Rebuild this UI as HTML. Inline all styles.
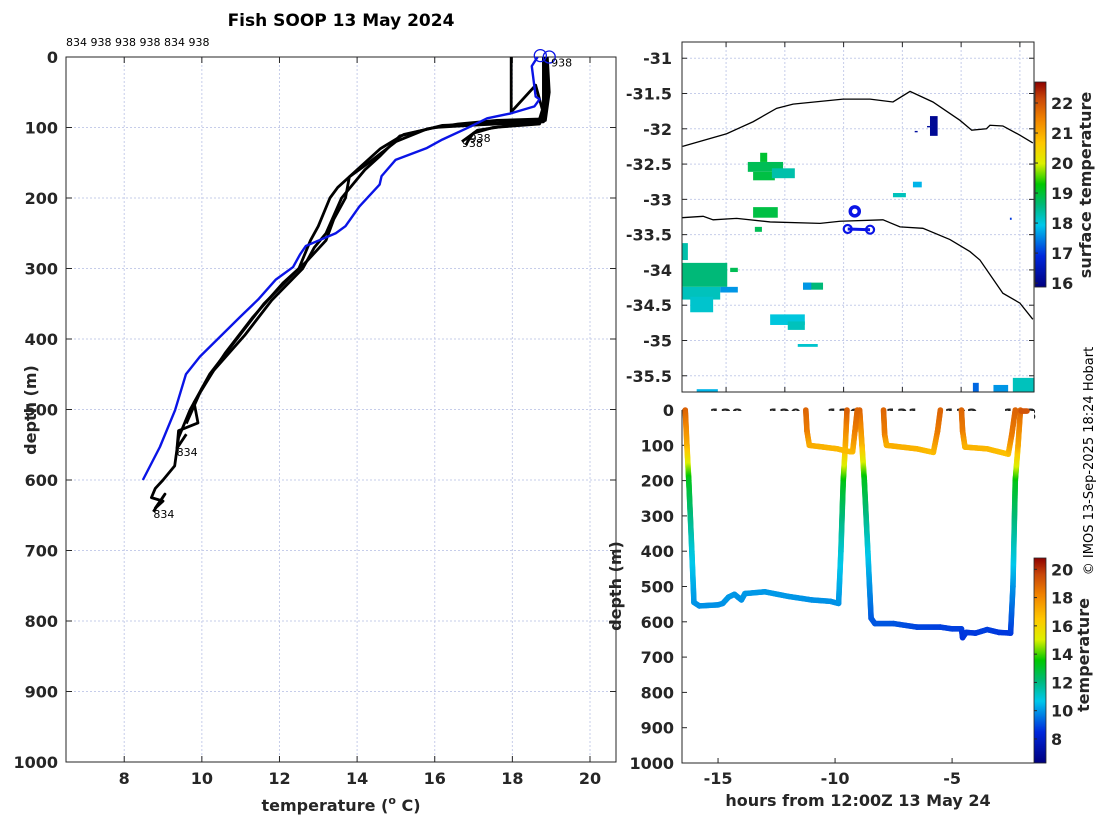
<!DOCTYPE html>
<html><head><meta charset="utf-8"><style>
body{margin:0;background:#fff;}
svg{display:block;font-family:"DejaVu Sans","Liberation Sans",sans-serif;}
.tk{font-size:16px;font-weight:bold;fill:#262626;}
.lb{font-size:16px;font-weight:bold;fill:#262626;}
</style></head><body>
<svg id="fig" width="1100" height="820" viewBox="0 0 1100 820">
<rect width="1100" height="820" fill="#fff"/>
<text x="341" y="26" text-anchor="middle" style="font-size:17px;font-weight:bold" fill="#000">Fish SOOP 13 May 2024</text>
<text x="66" y="46" style="font-size:11px" fill="#000">834 938 938 938 834 938</text>
<g id="left"></g>
<g id="map"></g>
<g id="tow"></g>
<text transform="translate(1093,461) rotate(-90)" text-anchor="middle" style="font-size:13px" fill="#000">© IMOS 13-Sep-2025 18:24 Hobart</text>
</svg>
<script>
// ---------- data: temperature profiles ----------
const blueT=[18.65,18.5,18.6,18.7,18.57,17.96,17.35,16.83,16.2,15.8,14.99,14.63,14.58,14.06,13.7,13.45,12.68,12.53,12.35,11.9,11.45,10.98,9.95,9.59,9.31,8.92,8.48];
const blueD=[0,13,56,60,70,80,87,101,117,129,146,169,181,212,240,250,268,280,298,316,344,369,425,450,501,553,600];
const castA_T=[18.85,18.9,18.8,17.2,16.0,15.2,14.6,14.0,13.5,13.3,13.0,12.8,12.5,11.6,10.9,10.2,9.7,9.4,9.3,9.0,8.8,8.7,9.0,8.8,9.05,8.75];
const castA_D=[0,60,92,96,100,110,130,160,185,200,240,260,300,350,400,450,500,540,580,600,612,625,630,640,620,645];
const castB_T=[18.9,18.95,18.85,17.5,16.2,15.4,15.1,14.6,14.2,13.9,13.6,13.2,12.9,12.6,11.8,11.1,10.3,9.8,9.9,9.4,9.36,9.6];
const castB_D=[0,50,90,94,97,108,112,140,160,180,200,250,270,300,345,395,445,490,519,530,555,535];
const castC_T=[18.8,18.85,18.7,17.6,16.6,15.8,15.0,14.3,13.8,13.7,13.4,13.2,12.7,12.1,11.3,10.6,10.0,9.6];
const castC_D=[0,70,88,90,95,102,120,150,170,200,230,260,290,320,370,420,470,520];
const castD_T=[17.97,17.97,18.6,18.8,18.7,17.5,17.0,16.9,16.8];
const castD_D=[0,78,40,80,95,100,108,115,125];
const castE_T=[18.8,18.8,18.7,17.8,17.1,16.9,16.7];
const castE_D=[0,70,88,98,104,112,120];
// ---------- data: map ----------
const coastLon=[127.26,128.01,128.46,128.86,129.14,129.99,130.45,130.84,131.13,131.52,131.98,132.18,132.43,132.49,132.71,133.0,133.22];
const coastLat=[-32.25,-32.07,-31.9,-31.71,-31.65,-31.58,-31.58,-31.62,-31.47,-31.62,-31.88,-32.02,-32.0,-31.95,-31.96,-32.09,-32.2];
const isoLon=[127.25,127.61,127.78,128.18,128.75,129.6,129.94,130.67,130.96,131.35,131.81,132.15,132.32,132.71,133.0,133.22];
const isoLat=[-33.26,-33.24,-33.29,-33.27,-33.32,-33.34,-33.31,-33.29,-33.39,-33.41,-33.57,-33.74,-33.86,-34.33,-34.47,-34.7];
const trackLon=[130.07,130.45];
const trackLat=[-33.42,-33.43];
const loopLon=[130.19], loopLat=[-33.17];
// patches: lon0, lon1, lat0, lat1, sst
const patchLon0=[128.37,128.46,128.58,128.78,128.46,128.49,127.25,127.25,127.39,127.25,127.9,128.07,129.31,129.31,128.75,129.05,129.22,127.5,132.88,132.2,132.55,131.47,131.52,131.42,131.21,131.18,130.84,132.83];
const patchLon1=[128.97,128.83,128.7,129.17,128.88,128.61,128.02,127.9,127.78,127.35,128.2,128.2,129.65,129.45,129.34,129.34,129.56,127.86,133.25,132.3,132.8,131.6,131.59,131.52,131.26,131.33,131.06,132.86];
const patchLat0=[-32.47,-32.61,-32.34,-32.56,-33.11,-33.39,-33.9,-34.24,-34.38,-33.62,-34.24,-33.97,-34.18,-34.18,-34.63,-34.73,-35.05,-35.69,-35.53,-35.6,-35.63,-31.82,-31.83,-31.96,-32.03,-32.75,-32.91,-33.26];
const patchLat1=[-32.61,-32.73,-32.47,-32.70,-33.26,-33.46,-34.24,-34.42,-34.6,-33.86,-34.32,-34.03,-34.28,-34.28,-34.78,-34.85,-35.09,-35.73,-35.73,-35.73,-35.73,-32.1,-31.86,-31.98,-32.05,-32.83,-32.97,-33.29];
const patchSST=[18.8,18.9,19.0,18.3,18.9,18.8,18.6,18.2,18.1,18.3,17.6,18.8,18.6,17.6,18.0,18.2,18.1,17.8,18.2,17.3,17.6,16.1,16.0,16.2,16.2,17.8,18.2,17.0];
// ---------- data: tow time series ----------
const deep1T=[-16.4,-16.33,-16.25,-16.12,-16.03,-15.8,-15.0,-14.8,-14.55,-14.3,-14.0,-13.85,-13.0,-12.0,-11.0,-10.2,-9.85,-9.75,-9.65,-9.56,-9.49];
const deep1D=[0,100,200,400,545,555,552,548,530,522,538,520,515,528,538,542,548,400,200,100,0];
const deep1Temp=[19.0,17.2,13.2,10.9,10.0,9.9,9.9,9.9,10.0,10.0,9.9,10.0,10.0,10.0,9.9,9.9,9.9,10.9,13.2,17.0,19.0];
const deep2T=[-8.95,-8.85,-8.75,-8.6,-8.46,-8.3,-7.5,-6.5,-5.5,-5.0,-4.6,-4.55,-4.4,-4.0,-3.5,-3.0,-2.5,-2.4,-2.3,-2.18,-2.08];
const deep2D=[0,100,200,400,590,605,605,615,615,620,620,645,630,632,622,630,632,500,200,100,0];
const deep2Temp=[19.0,17.0,13.2,10.8,9.2,9.1,9.1,8.9,8.8,8.8,8.8,8.6,8.7,8.7,8.8,8.7,8.7,9.9,13.2,17.2,18.8];
const sh1T=[-11.25,-11.2,-11.1,-10.5,-9.9,-9.6,-9.35,-9.25,-9.15,-9.05];
const sh1D=[0,60,100,105,110,115,118,118,60,0];
const sh1Temp=[18.9,18.4,17.2,17.0,16.9,16.8,16.8,16.8,18.2,18.9];
const sh2T=[-7.93,-7.88,-7.8,-6.5,-5.8,-5.62,-5.5];
const sh2D=[0,70,100,110,120,60,0];
const sh2Temp=[18.9,18.3,17.1,17.0,16.7,18.3,18.9];
const sh3T=[-4.6,-4.55,-4.45,-3.5,-2.6,-2.45,-2.3];
const sh3D=[0,60,105,110,125,70,0];
const sh3Temp=[18.9,18.4,17.0,16.9,16.6,18.3,18.9];
const surfT=[-2.05,-1.8];
const surfD=[3,3];
const surfTemp=[19.3,19.3];
</script>
<script>
const NS="http://www.w3.org/2000/svg";
function mk(tag,attrs,parent){const e=document.createElementNS(NS,tag);for(const k in attrs)e.setAttribute(k,attrs[k]);parent.appendChild(e);return e;}
const stops=[[0,[0,0,128]],[0.15,[0,40,220]],[0.3,[0,200,235]],[0.4,[0,185,120]],[0.5,[0,200,0]],[0.6,[220,240,0]],[0.7,[255,200,0]],[0.82,[240,130,0]],[0.92,[200,70,10]],[1,[140,0,0]]];
function cmap(f){f=Math.max(0,Math.min(1,f));for(let i=1;i<stops.length;i++){if(f<=stops[i][0]){const a=stops[i-1],b=stops[i],t=(f-a[0])/(b[0]-a[0]);const c=a[1].map((v,j)=>Math.round(v+(b[1][j]-v)*t));return `rgb(${c[0]},${c[1]},${c[2]})`;}}return "rgb(140,0,0)";}
const GRID="#c6cdea";

// ===== Left profile panel =====
const L=document.getElementById('left');
const lx0=66,lx1=616,ly0=57,ly1=762,tMin=6.5,tMax=20.67;
const xT=t=>lx0+(t-tMin)/(tMax-tMin)*(lx1-lx0);
const yD=d=>ly0+d/1000*(ly1-ly0);
const tempTicks=[8,10,12,14,16,18,20];
const depthTicks=[0,100,200,300,400,500,600,700,800,900,1000];
tempTicks.forEach(t=>{const x=xT(t);
 const g=mk('line',{x1:x,x2:x,y1:ly0,y2:ly1,stroke:GRID,'stroke-dasharray':'2,2'},L);
 
 mk('line',{x1:x,x2:x,y1:ly1,y2:ly1-6,stroke:'#262626'},L);mk('line',{x1:x,x2:x,y1:ly0,y2:ly0+6,stroke:'#262626'},L);
 const tx=mk('text',{x:x,y:784,'text-anchor':'middle',class:'tk'},L);tx.textContent=t;
 });
depthTicks.forEach(d=>{const y=yD(d);
 if(d>0&&d<1000){const g=mk('line',{x1:lx0,x2:lx1,y1:y,y2:y,stroke:GRID,'stroke-dasharray':'2,2'},L);
 }
 mk('line',{x1:lx0,x2:lx0+6,y1:y,y2:y,stroke:'#262626'},L);mk('line',{x1:lx1,x2:lx1-6,y1:y,y2:y,stroke:'#262626'},L);
 const tx=mk('text',{x:58,y:y+6,'text-anchor':'end',class:'tk'},L);tx.textContent=d;
 });
const lb=mk('rect',{x:lx0,y:ly0,width:lx1-lx0,height:ly1-ly0,fill:'none',stroke:'#262626'},L);

function prof(T,D,col,w,name){const p=mk('polyline',{points:T.map((t,i)=>xT(t)+','+yD(D[i])).join(' '),fill:'none',stroke:col,'stroke-width':w,'stroke-linejoin':'round'},L);
 }
prof(castA_T,castA_D,'#000',2.8,'cast-834-a');
prof(castB_T,castB_D,'#000',2.8,'cast-834-b');
prof(castC_T,castC_D,'#000',2.8,'cast-938-c');
prof(castD_T,castD_D,'#000',2.8,'cast-938-d');
prof(castE_T,castE_D,'#000',2.8,'cast-938-e');
prof(blueT,blueD,'#0a14e6',2.4,'cast-blue');
[[18.72,-2],[18.95,0]].forEach(p=>{const c=mk('circle',{cx:xT(p[0]),cy:yD(p[1]),r:6,fill:'none',stroke:'#0a14e6','stroke-width':1.3},L);
 });
[['938',19.0,8],['938',16.7,122],['938',16.9,115],['834',9.35,560],['834',8.75,648]].forEach(a=>{
 const t=mk('text',{x:xT(a[1]),y:yD(a[2])+4,style:'font-size:11px',fill:'#000'},L);t.textContent=a[0];
 });
let t1=mk('text',{x:341,y:811,'text-anchor':'middle',class:'lb'},L);t1.innerHTML='temperature (<tspan dy="-7" style="font-size:11px">o</tspan><tspan dy="7"> C)</tspan>';

let t2=mk('text',{transform:'translate(36,410) rotate(-90)','text-anchor':'middle',class:'lb'},L);t2.textContent='depth (m)';


// ===== Map panel =====
const M=document.getElementById('map');
const mx0=682,mx1=1034,my0=42,my1=392,lonMin=127.25,lonMax=133.24,latTop=-30.77,latBot=-35.73;
const xL=l=>mx0+(l-lonMin)/(lonMax-lonMin)*(mx1-mx0);
const yL=l=>my0+(latTop-l)/(latTop-latBot)*(my1-my0);
const lonTicks=[128,129,130,131,132,133];
const latTicks=[-31,-31.5,-32,-32.5,-33,-33.5,-34,-34.5,-35,-35.5];
lonTicks.forEach(l=>{const x=xL(l);
 const g=mk('line',{x1:x,x2:x,y1:my0,y2:my1,stroke:GRID,'stroke-dasharray':'2,2'},M);
 mk('line',{x1:x,x2:x,y1:my0,y2:my0+5,stroke:'#262626'},M);mk('line',{x1:x,x2:x,y1:my1,y2:my1-5,stroke:'#262626'},M);
 const t=mk('text',{x:x,y:420,'text-anchor':'middle',class:'tk'},M);t.textContent=l;});
latTicks.forEach(l=>{const y=yL(l);
 const g=mk('line',{x1:mx0,x2:mx1,y1:y,y2:y,stroke:GRID,'stroke-dasharray':'2,2'},M);
 mk('line',{x1:mx0,x2:mx0+5,y1:y,y2:y,stroke:'#262626'},M);mk('line',{x1:mx1,x2:mx1-5,y1:y,y2:y,stroke:'#262626'},M);
 const t=mk('text',{x:672,y:y+6,'text-anchor':'end',class:'tk'},M);t.textContent=l;});
const sMin=15.87,sMax=22.7;
patchSST.forEach((s,i)=>{const x=xL(patchLon0[i]),x2=xL(patchLon1[i]),y=yL(patchLat0[i]),y2=yL(patchLat1[i]);
 const r=mk('rect',{x:Math.min(x,x2),y:Math.min(y,y2),width:Math.abs(x2-x),height:Math.abs(y2-y),fill:cmap((s-sMin)/(sMax-sMin))},M);
 });
let cl=mk('polyline',{points:coastLon.map((l,i)=>xL(l)+','+yL(coastLat[i])).join(' '),fill:'none',stroke:'#000','stroke-width':1.3},M);

let iso=mk('polyline',{points:isoLon.map((l,i)=>xL(l)+','+yL(isoLat[i])).join(' '),fill:'none',stroke:'#000','stroke-width':1.3},M);

let tr=mk('polyline',{points:trackLon.map((l,i)=>xL(l)+','+yL(trackLat[i])).join(' '),fill:'none',stroke:'#0a14e6','stroke-width':3},M);

trackLon.forEach((l,i)=>{const c=mk('circle',{cx:xL(l),cy:yL(trackLat[i]),r:4,fill:'none',stroke:'#0a14e6','stroke-width':2.2},M);});
loopLon.forEach((l,i)=>{const c=mk('circle',{cx:xL(l),cy:yL(loopLat[i]),r:4.5,fill:'none',stroke:'#0a14e6','stroke-width':3.5},M);});
let mb=mk('rect',{x:mx0,y:my0,width:mx1-mx0,height:my1-my0,fill:'none',stroke:'#262626'},M);
const cb1y0=82,cb1y1=287;
for(let i=0;i<cb1y1-cb1y0;i++){mk('rect',{x:1035,y:cb1y1-i-1,width:11,height:1.2,fill:cmap(i/(cb1y1-cb1y0))},M);}
const sstTicks=[16,17,18,19,20,21,22];
sstTicks.forEach(s=>{const y=cb1y1-(s-sMin)/(sMax-sMin)*(cb1y1-cb1y0);
 mk('line',{x1:1035,x2:1038,y1:y,y2:y,stroke:'#262626'},M);
 const t=mk('text',{x:1051,y:y+6,class:'tk'},M);t.textContent=s;});
let c1b=mk('rect',{x:1035,y:cb1y0,width:11,height:cb1y1-cb1y0,fill:'none',stroke:'#262626','stroke-width':0.8},M);
let c1t=mk('text',{transform:'translate(1091,185) rotate(-90)','text-anchor':'middle',class:'lb'},M);c1t.textContent='surface temperature';


// ===== Tow panel =====
const W=document.getElementById('tow');
const bx0=682,bx1=1034,by0=410,by1=763,hMin=-16.54,hMax=-1.5,tcMin=6.3,tcMax=20.8;
mk('rect',{x:bx0,y:by0+1,width:bx1-bx0,height:by1-by0,fill:'#fff'},W);
const xH=h=>bx0+(h-hMin)/(hMax-hMin)*(bx1-bx0);
const yB=d=>by0+d/1000*(by1-by0);
const hourTicks=[-15,-10,-5];
hourTicks.forEach(h=>{const x=xH(h);mk('line',{x1:x,x2:x,y1:by1,y2:by1-5,stroke:'#262626'},W);
 const t=mk('text',{x:x,y:784,'text-anchor':'middle',class:'tk'},W);t.textContent=h;});
depthTicks.forEach(d=>{const y=yB(d);mk('line',{x1:bx0,x2:bx0+5,y1:y,y2:y,stroke:'#262626'},W);
 const t=mk('text',{x:674,y:y+6,'text-anchor':'end',class:'tk'},W);t.textContent=d;});
function tow(T,D,C,name){const g=mk('g',{},W);
 for(let i=0;i<T.length-1;i++){const x0=xH(T[i]),y0=yB(D[i]),x1=xH(T[i+1]),y1=yB(D[i+1]);const n=Math.max(2,Math.ceil(Math.hypot(x1-x0,y1-y0)));
  for(let k=0;k<=n;k++){const f=k/n;const tc=C[i]+(C[i+1]-C[i])*f;
   mk('circle',{cx:x0+(x1-x0)*f,cy:y0+(y1-y0)*f,r:2.8,fill:cmap((tc-tcMin)/(tcMax-tcMin))},g);}}}
tow(deep1T,deep1D,deep1Temp,'tow-deep-1');
tow(deep2T,deep2D,deep2Temp,'tow-deep-2');
tow(sh1T,sh1D,sh1Temp,'tow-shallow-1');
tow(sh2T,sh2D,sh2Temp,'tow-shallow-2');
tow(sh3T,sh3D,sh3Temp,'tow-shallow-3');
tow(surfT,surfD,surfTemp,'tow-surface');
let bb=mk('path',{d:`M${bx0},${by0} V${by1} H${bx1}`,fill:'none',stroke:'#262626'},W);
const cb2y0=558,cb2y1=763;
for(let i=0;i<cb2y1-cb2y0;i++){mk('rect',{x:1034,y:cb2y1-i-1,width:12,height:1.2,fill:cmap(i/(cb2y1-cb2y0))},W);}
const tempCTicks=[8,10,12,14,16,18,20];
tempCTicks.forEach(s=>{const y=cb2y1-(s-tcMin)/(tcMax-tcMin)*(cb2y1-cb2y0);
 mk('line',{x1:1034,x2:1037,y1:y,y2:y,stroke:'#262626'},W);
 const t=mk('text',{x:1051,y:y+6,class:'tk'},W);t.textContent=s;});
let c2b=mk('rect',{x:1034,y:cb2y0,width:12,height:cb2y1-cb2y0,fill:'none',stroke:'#262626','stroke-width':0.8},W);
let c2t=mk('text',{transform:'translate(1089,655) rotate(-90)','text-anchor':'middle',class:'lb'},W);c2t.textContent='temperature';

let bxl=mk('text',{x:858,y:806,'text-anchor':'middle',class:'lb'},W);bxl.textContent='hours from 12:00Z 13 May 24';

let byl=mk('text',{transform:'translate(621,586) rotate(-90)','text-anchor':'middle',class:'lb'},W);byl.textContent='depth (m)';

</script>
</body></html>
